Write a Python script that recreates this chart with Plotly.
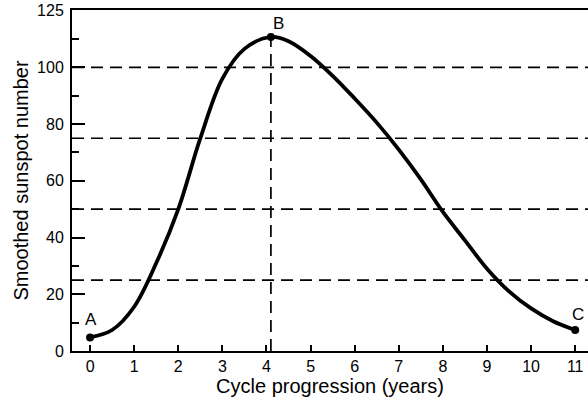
import plotly.graph_objects as go

# cycle curve
years = [0, 0.5, 1, 1.5, 2, 2.5, 3, 3.5, 4.1, 4.5, 5, 5.5,
         6, 6.5, 7, 7.5, 8, 8.5, 9, 9.5, 10, 10.5, 11]
sunspots = [4.8, 7.4, 15.6, 31, 50, 75, 96, 106.5, 110.7, 109.2, 104, 97,
            89, 80.5, 71, 60.5, 49, 39, 29, 21, 15, 10.5, 7.4]

point_names = ["A", "B", "C"]
point_years = [0, 4.1, 11]
point_values = [4.8, 110.7, 7.4]
label_years = [0.03, 4.28, 11.07]
label_values = [11, 115.5, 12.7]

levels = [100, 75, 50, 25]
ytick_vals = [0, 20, 40, 60, 80, 100, 120]
ytick_text = ["0", "20", "40", "60", "80", "100", "125"]
xtick_vals = list(range(0, 12))

fig = go.Figure()

for lv in levels:
    fig.add_shape(type="line", xref="paper", x0=0, x1=1, y0=lv, y1=lv,
                  line=dict(color="black", width=1.7, dash="12px,7px"))
fig.add_shape(type="line", x0=point_years[1], x1=point_years[1], y0=0, y1=point_values[1],
              line=dict(color="black", width=1.7, dash="12px,7px"))

fig.add_trace(go.Scatter(
    x=years, y=sunspots, mode="lines",
    line=dict(color="black", width=3.8, shape="spline", smoothing=1),
    hoverinfo="skip", showlegend=False,
))
fig.add_trace(go.Scatter(
    x=point_years, y=point_values, mode="markers",
    marker=dict(color="black", size=8),
    showlegend=False,
))

for name, lx, ly in zip(point_names, label_years, label_values):
    fig.add_annotation(x=lx, y=ly, text=name, showarrow=False,
                       font=dict(size=17, color="black"))

fig.update_layout(
    width=588, height=403,
    margin=dict(l=72, r=0, t=10, b=52),
    plot_bgcolor="white", paper_bgcolor="white",
    font=dict(family="Arial, Liberation Sans", size=16, color="black"),
)
fig.update_xaxes(
    range=[-0.41, 11.29], tickvals=xtick_vals, automargin=False,
    ticks="inside", ticklen=6, tickwidth=1.5, tickcolor="black",
    showline=True, linecolor="black", linewidth=2, mirror=True,
    showgrid=False, zeroline=False,
    title=dict(text="Cycle progression (years)", font=dict(size=20), standoff=4),
)
fig.update_yaxes(
    range=[0, 120.2], tickvals=ytick_vals, ticktext=ytick_text, automargin=False,
    ticks="inside", ticklen=13, tickwidth=1.5, tickcolor="black", ticklabelstandoff=3,
    minor=dict(ticks="inside", ticklen=7, dtick=10, tick0=0, tickcolor="black", tickwidth=1.5),
    showline=True, linecolor="black", linewidth=2,
    showgrid=False, zeroline=False,
    title=dict(text="Smoothed sunspot number", font=dict(size=20), standoff=3),
)

# drop the browser's default body margin so the figure fills the window
fig.write_html("out.html", config={"displayModeBar": False},
               post_script="document.body.style.margin='0';")
